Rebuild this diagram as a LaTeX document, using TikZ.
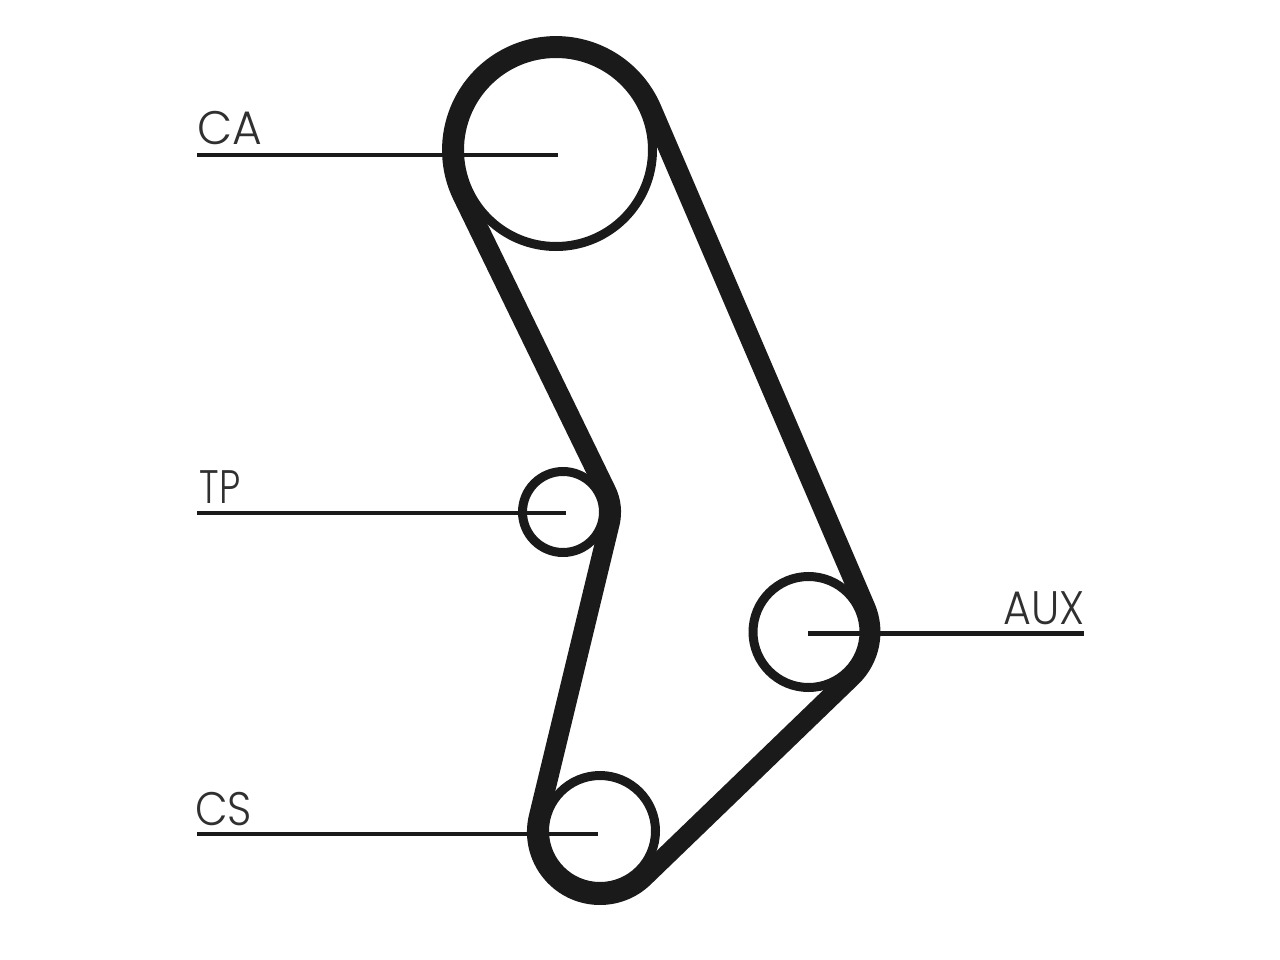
\documentclass[tikz,border=0pt]{standalone}
\usepackage{graphicx}
\usepackage{fontspec}
\setmainfont{Poppins Light}
\begin{document}
\begin{tikzpicture}[x=1pt,y=-1pt,
  belt/.style={line width=20pt,line join=round,color=beltblack},
  pulley/.style={circle,draw=beltblack,line width=9pt,inner sep=0pt,outer sep=0pt,minimum size=#1},
  leader/.style={line width=4.4pt,color=beltblack},
  lab/.style={font=\fontsize{47}{47}\selectfont,text=labelgrey,inner sep=0pt,anchor=base west}]
\definecolor{beltblack}{HTML}{1A1A1A}
\definecolor{labelgrey}{HTML}{303030}
\useasboundingbox (0,0) rectangle (1280,960);
% belt
\draw[belt] (462.5,195.5) arc[start angle=154.1,end angle=336.8,radius=104]
  -- (865.4,607.35) arc[start angle=-23.2,end angle=46,radius=62.5]
  -- (643.7,877.3) arc[start angle=46,end angle=193.56,radius=63]
  -- (609.7,523.3) arc[start angle=13.56,end angle=-25.9,radius=48]
  -- cycle;
% pulleys (size = diameter of the ring's centre line)
\node[pulley=193pt] (ca) at (556,150) {};
\node[pulley=81pt] (tp) at (563,512) {};
\node[pulley=111pt] (aux) at (808.5,632) {};
\node[pulley=111pt] (cs) at (600,831) {};
% labels
\node[lab] (lca) at (197,144.5) {\scalebox{0.97}[1]{CA}};
\node[lab] (ltp) at (199.5,503) {\scalebox{0.8}[1]{TP}};
\node[lab] (lcs) at (195,825) {\scalebox{0.9}[1]{CS}};
\node[lab,anchor=base east] (laux) at (1085,624) {\scalebox{0.91}[1]{AUX}};
% leaders
\coordinate (aca) at (197,155); \coordinate (bca) at (558,155);
\coordinate (atp) at (197,513); \coordinate (btp) at (566,513);
\coordinate (acs) at (197,834); \coordinate (bcs) at (598,834);
\coordinate (aaux) at (1084,633.5); \coordinate (baux) at (808,633.5);
\draw[leader] (aca) -- (bca);
\draw[leader] (atp) -- (btp);
\draw[leader] (acs) -- (bcs);
\draw[leader] (aaux) -- (baux);
\end{tikzpicture}
\end{document}
